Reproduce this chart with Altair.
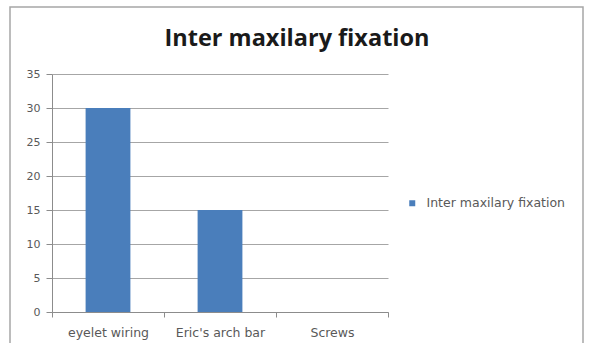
import altair as alt
import pandas as pd

# Technique counts for inter maxillary fixation
categories = ["eyelet wiring", "Eric's arch bar", "Screws"]
counts = [30, 15, 0]
series_name = "Inter maxilary fixation"
chart_title = "Inter maxilary fixation"
y_ticks = [0, 5, 10, 15, 20, 25, 30, 35]

df = pd.DataFrame({"method": categories, "count": counts, "series": [series_name] * 3})

FONT = "DejaVu Sans"
TITLE_FONT = "Open Sans"
GREY = "#595959"
BLUE = "#4a7ebb"

bars = alt.Chart(df).mark_bar(width=alt.RelativeBandSize(0.4), color=BLUE).encode(
    x=alt.X(
        "method:N",
        sort=categories,
        title=None,
        scale=alt.Scale(paddingInner=0, paddingOuter=0),
        axis=alt.Axis(
            labelAngle=0,
            labelFont=FONT,
            labelFontSize=12.5,
            labelColor=GREY,
            labelPadding=9,
            tickBand="extent",
            tickSize=5,
            tickColor="#8c8c8c",
            domainColor="#8c8c8c",
            grid=False,
        ),
    ),
    y=alt.Y(
        "count:Q",
        title=None,
        scale=alt.Scale(domain=[0, 35], nice=False),
        axis=alt.Axis(
            values=y_ticks,
            labelFont=FONT,
            labelFontSize=11,
            labelColor=GREY,
            labelPadding=6,
            tickSize=6,
            tickColor="#8c8c8c",
            domainColor="#8c8c8c",
            gridColor="#a6a6a6",
            gridWidth=1,
        ),
    ),
    color=alt.Color(
        "series:N",
        scale=alt.Scale(range=[BLUE]),
        legend=alt.Legend(
            title=None,
            orient="none",
            legendX=354,
            legendY=123,
            symbolType="square",
            symbolSize=36,
            symbolStrokeWidth=0,
            labelFont=FONT,
            labelFontSize=12.5,
            labelColor=GREY,
            labelOffset=8,
        ),
    ),
)

# outer chart frame
frame = alt.Chart(pd.DataFrame({"k": [0]})).mark_rect(
    fillOpacity=0, stroke="#a6a6a6", strokeWidth=1.5
).encode(
    x=alt.value(-42), x2=alt.value(531), y=alt.value(-67), y2=alt.value(320)
)

# chart heading, centred over plot plus legend
heading = alt.Chart(pd.DataFrame({"t": [chart_title]})).mark_text(
    font=TITLE_FONT, fontSize=23.5, fontWeight="bold", color="#1a1a1a",
    align="center", baseline="alphabetic",
).encode(x=alt.value(245), y=alt.value(-28), text="t:N")

chart = alt.layer(frame, heading, bars).properties(
    width=336,
    height=238,
    padding={"left": 52, "top": 74, "right": 207, "bottom": 31},
    autosize=alt.AutoSizeParams(type="none"),
    background="white",
).configure_view(stroke=None)

chart.save("out.html", embed_options={"renderer": "svg", "actions": False})
